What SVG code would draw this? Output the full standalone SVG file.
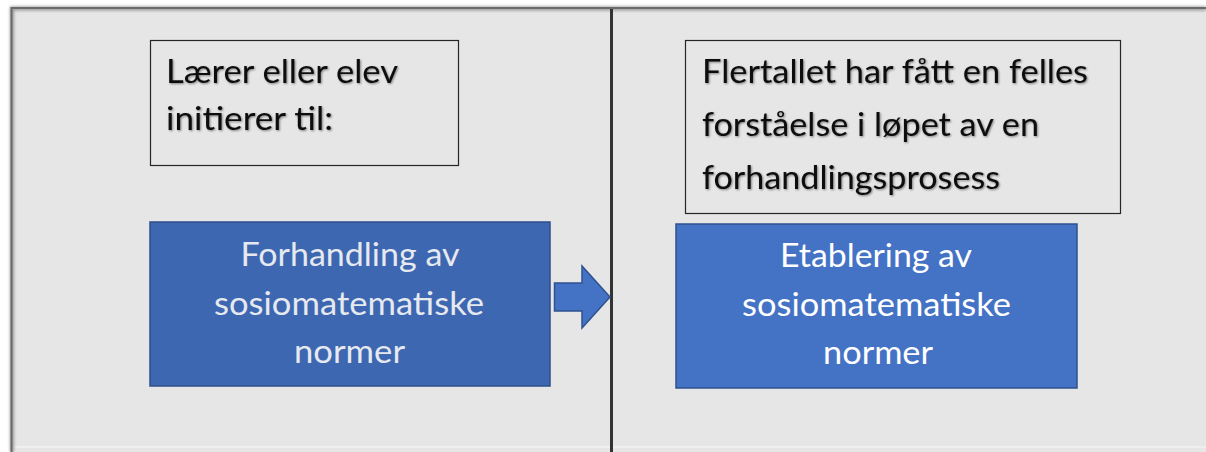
<svg xmlns="http://www.w3.org/2000/svg" width="1206" height="452" viewBox="0 0 1206 452">
  <defs>
    <filter id="edgeShadow" x="-50%" y="-50%" width="200%" height="200%">
      <feGaussianBlur stdDeviation="1.6"/>
    </filter>
    <filter id="textShadow" x="-5%" y="-20%" width="110%" height="140%">
      <feGaussianBlur in="SourceAlpha" stdDeviation="1.2" result="b"/>
      <feOffset in="b" dx="1" dy="1" result="o"/>
      <feComponentTransfer in="o" result="s"><feFuncA type="linear" slope="0.45"/></feComponentTransfer>
      <feMerge><feMergeNode in="s"/><feMergeNode in="SourceGraphic"/></feMerge>
    </filter>
    <style>
      .note { fill: none; stroke: #262626; stroke-width: 1.2; }
      .note-text { font-family: Lato, "Open Sans", sans-serif; font-size: 33px; fill: #0d0d0d; }
      .block-text { font-family: Lato, "Open Sans", sans-serif; font-size: 33px; text-anchor: middle; }
      .arrow { fill: #4472c4; stroke: #2f528f; stroke-width: 1.5; }
    </style>
  </defs>

  <!-- page background and panel -->
  <rect width="1206" height="452" fill="#ffffff"/>
  <rect x="11" y="8" width="1195" height="444" fill="#e6e6e6"/>
  <rect x="11" y="446" width="1195" height="2" fill="#efefef"/>

  <!-- panel frame with soft shadow -->
  <g id="frame">
    <path d="M12 452 V8.5 H1206" fill="none" stroke="#9a9a9a" stroke-width="4" filter="url(#edgeShadow)"/>
    <path d="M11.5 452 V8 H1206" fill="none" stroke="#6b6b6b" stroke-width="2"/>
  </g>

  <!-- divider between the two stages -->
  <g id="divider">
    <line x1="612" y1="9" x2="612" y2="452" stroke="#8a8a8a" stroke-width="6" filter="url(#edgeShadow)"/>
    <line x1="611.5" y1="9" x2="611.5" y2="452" stroke="#333333" stroke-width="3"/>
  </g>

  <!-- left stage -->
  <g id="note-left">
    <rect class="note" x="150.5" y="40.5" width="308" height="125"/>
    <g class="note-text" filter="url(#textShadow)">
      <text x="166" y="83" textLength="232" lengthAdjust="spacingAndGlyphs">Lærer eller elev</text>
      <text x="166" y="130" textLength="167" lengthAdjust="spacingAndGlyphs">initierer til:</text>
    </g>
  </g>

  <g id="block-left">
    <rect x="150" y="222" width="400" height="164" fill="#3e67b1" stroke="#2f4f8a" stroke-width="1.5"/>
    <g class="block-text" fill="#e6e9ef">
      <text x="350" y="266" textLength="219" lengthAdjust="spacingAndGlyphs">Forhandling av</text>
      <text x="349" y="315" textLength="270" lengthAdjust="spacingAndGlyphs">sosiomatematiske</text>
      <text x="349.5" y="363" textLength="111" lengthAdjust="spacingAndGlyphs">normer</text>
    </g>
  </g>

  <!-- right stage -->
  <g id="note-right">
    <rect class="note" x="685.5" y="40.5" width="435" height="173"/>
    <g class="note-text" filter="url(#textShadow)">
      <text x="702" y="83" textLength="386" lengthAdjust="spacingAndGlyphs">Flertallet har fått en felles</text>
      <text x="702" y="136" textLength="337" lengthAdjust="spacingAndGlyphs">forståelse i løpet av en</text>
      <text x="702" y="189" textLength="298" lengthAdjust="spacingAndGlyphs">forhandlingsprosess</text>
    </g>
  </g>

  <g id="block-right">
    <rect x="676" y="224" width="401" height="164" fill="#4472c4" stroke="#2f528f" stroke-width="1.5"/>
    <g class="block-text" fill="#ffffff">
      <text x="876" y="267" textLength="192" lengthAdjust="spacingAndGlyphs">Etablering av</text>
      <text x="876.5" y="316" textLength="269" lengthAdjust="spacingAndGlyphs">sosiomatematiske</text>
      <text x="878" y="364" textLength="110" lengthAdjust="spacingAndGlyphs">normer</text>
    </g>
  </g>

  <!-- block arrow between the stages -->
  <g id="connectors">
    <path class="arrow" d="M554.5 283 H582 V266 L610 297 L582 328 V311 H554.5 Z"/>
  </g>
</svg>
